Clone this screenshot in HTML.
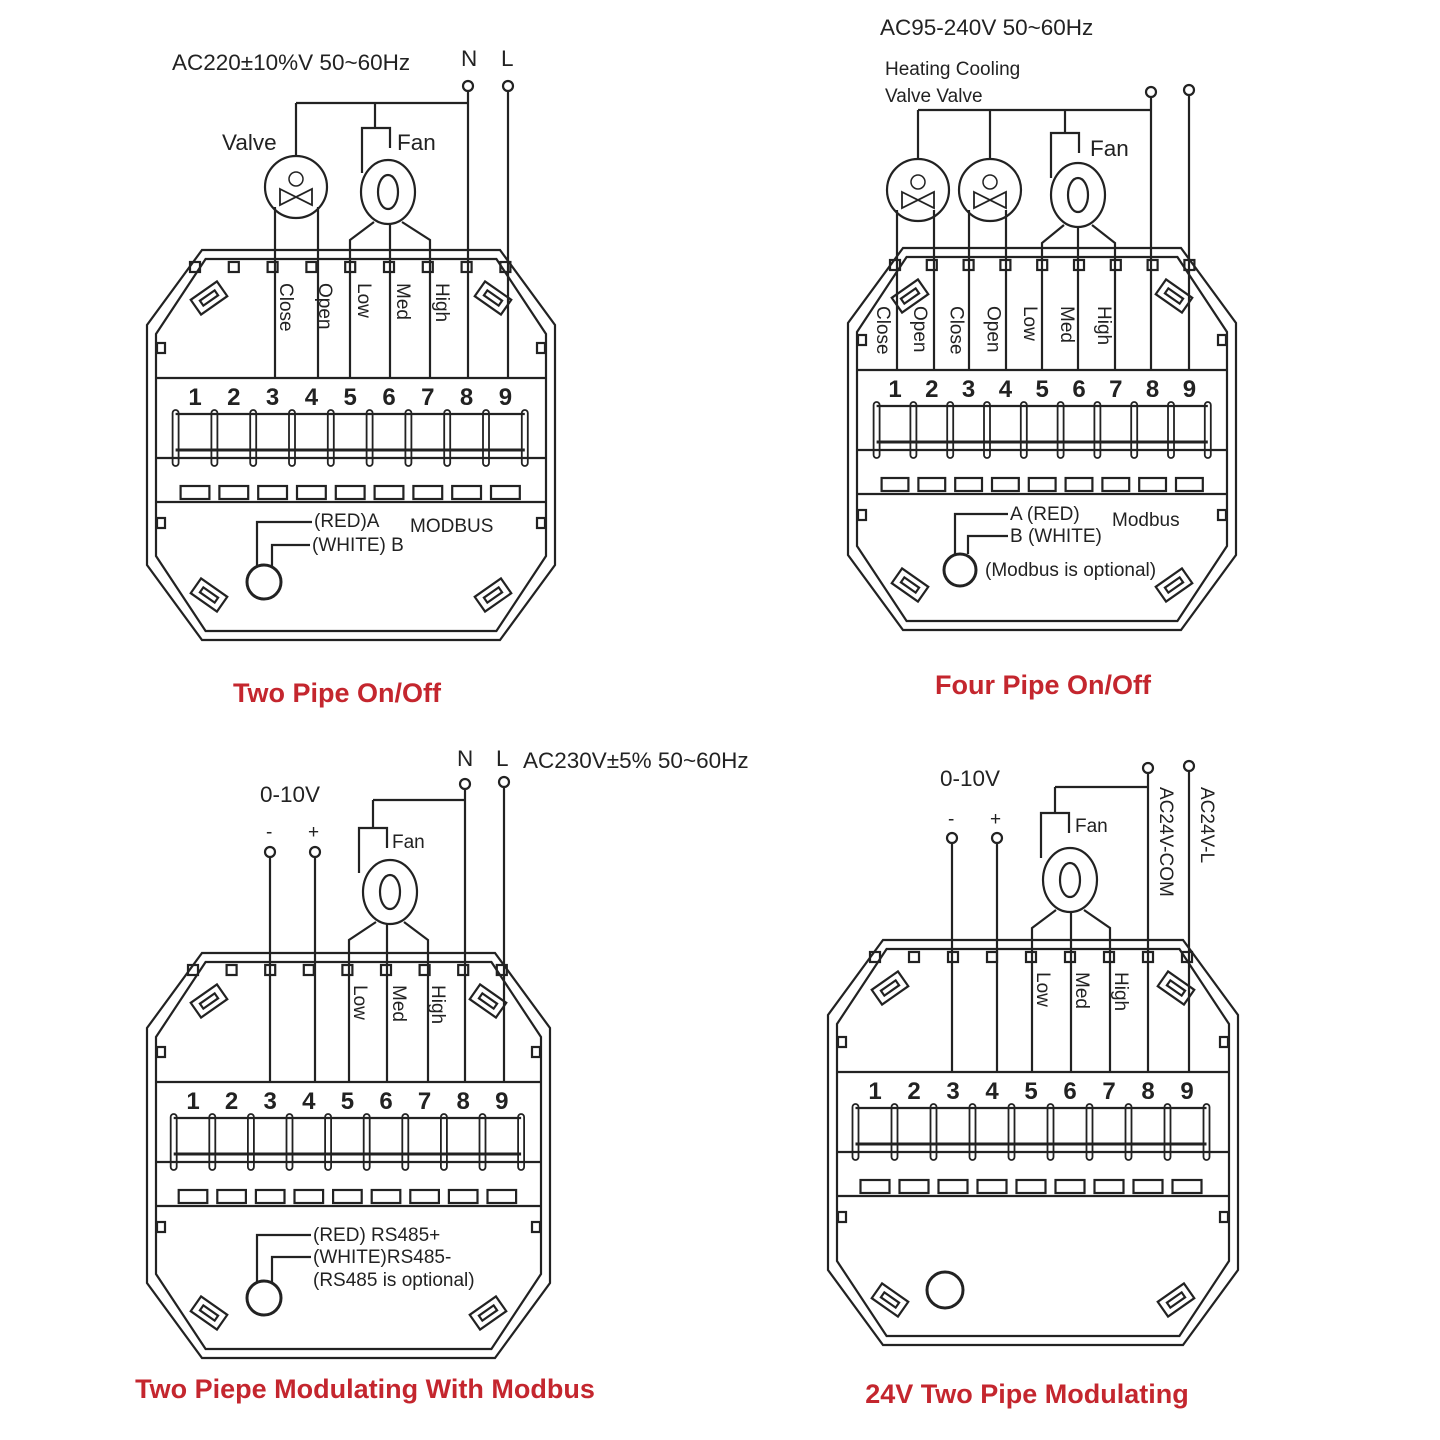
<!DOCTYPE html>
<html><head><meta charset="utf-8"><style>
html,body{margin:0;padding:0;background:#fff}
svg{display:block}
text{font-family:"Liberation Sans",sans-serif;fill:#222}
.t{font-size:22.5px}
.s{font-size:19px}
.n{font-size:24px;font-weight:bold}
.r{font-size:27px;font-weight:bold;fill:#c4262e}
</style></head><body>
<svg id="s" width="1440" height="1440" viewBox="0 0 1440 1440" xmlns="http://www.w3.org/2000/svg" fill="none" stroke="#222" stroke-width="2.2"></svg>
<script>
const S=document.getElementById('s');let H='';
function L(x1,y1,x2,y2,w){H+=`<line x1="${x1}" y1="${y1}" x2="${x2}" y2="${y2}"${w?` stroke-width="${w}"`:''}/>`}
function T(x,y,t,c,a){H+=`<text x="${x}" y="${y}" class="${c||'t'}" stroke="none"${a?` text-anchor="${a}"`:''}>${t}</text>`}
function RT(x,y,t,c){H+=`<text x="${x}" y="${y}" class="${c||'t'}" stroke="none" transform="rotate(90 ${x} ${y})">${t}</text>`}
function C(x,y,r,w){H+=`<circle cx="${x}" cy="${y}" r="${r}"${w?` stroke-width="${w}"`:''}/>`}
function oct(x0,y0,w,h,o){const c=55-o*0.6,v=75;x0+=o;y0+=o;w-=2*o;h-=2*o;
H+=`<polygon points="${x0+c},${y0} ${x0+w-c},${y0} ${x0+w},${y0+v} ${x0+w},${y0+h-v} ${x0+w-c},${y0+h} ${x0+c},${y0+h} ${x0},${y0+h-v} ${x0},${y0+v}"/>`}
function housing(x0,y0,w,h,tx0,p,yS){
 oct(x0,y0,w,h,0);oct(x0,y0,w,h,9);
 L(x0+9,yS,x0+w-9,yS);L(x0+9,yS+80,x0+w-9,yS+80);L(x0+9,yS+124,x0+w-9,yS+124);
 for(let i=0;i<9;i++){const x=tx0+i*p;T(x,yS+27,i+1,'n','middle');
  H+=`<rect x="${x-p/2+5}" y="${yS+108}" width="${p-10}" height="13"/>`;
  H+=`<rect x="${x-5}" y="${y0+12}" width="10" height="10"/>`;}
 for(let i=0;i<=9;i++){const x=tx0-p/2+i*p;H+=`<rect x="${x-3}" y="${yS+32}" width="6" height="56" rx="3" stroke-width="1.8"/>`}
 L(tx0-p/2,yS+36,tx0+8.5*p,yS+36);L(tx0-p/2,yS+72,tx0+8.5*p,yS+72,3);
 [[x0+62,y0+48,-35],[x0+w-62,y0+48,35],[x0+62,y0+h-45,35],[x0+w-62,y0+h-45,-35]].forEach(a=>{
  H+=`<g transform="rotate(${a[2]} ${a[0]} ${a[1]})"><rect x="${a[0]-16}" y="${a[1]-9}" width="32" height="18"/><rect x="${a[0]-9}" y="${a[1]-3}" width="18" height="6"/></g>`});
 [yS-35,yS+140].forEach(y=>{H+=`<rect x="${x0+10}" y="${y}" width="8" height="10"/><rect x="${x0+w-18}" y="${y}" width="8" height="10"/>`});
}
function fan(x,y,cx,cy,legs,yB){
 H+=`<path d="M${x-14},${y+45} V${y} H${x+14} V${y+20}"/>`;
 H+=`<ellipse cx="${cx}" cy="${cy}" rx="27" ry="32"/><ellipse cx="${cx}" cy="${cy}" rx="10" ry="17"/>`;
 const by=cy+30;
 H+=`<path d="M${legs[0]},${yB} V${by+18} L${cx-14},${by}"/>`;
 L(legs[1],by+2,legs[1],yB);
 H+=`<path d="M${legs[2]},${yB} V${by+18} L${cx+14},${by}"/>`;
}
function valve(cx,cy,l1,l2,yB){C(cx,cy,31);C(cx,cy-8,7,1.5);
 H+=`<path d="M${cx-16},${cy+2} L${cx+16},${cy+18} V${cy+2} L${cx-16},${cy+18}Z" stroke-width="1.8"/>`;
 L(l1,cy+20,l1,yB);L(l2,cy+20,l2,yB);}
// TL
housing(147,250,408,390,195,38.8,378);
T(172,70,'AC220±10%V 50~60Hz');T(461,66,'N','t');T(501,66,'L','t');
C(468,86,5);C(508,86,5);L(468,91,468,378);L(508,91,508,378);
L(296,103,468,103);L(296,103,296,155);L(375,103,375,128);
valve(296,187,275,318,378);fan(376,128,388,192,[350,390,430],378);
T(222,150,'Valve');T(397,150,'Fan');
['Close','Open','Low','Med','High'].forEach((t,i)=>RT(280+i*39,283,t,'s'));
C(264,582,17,3);H+=`<path d="M257,566 V522 H312 M272,566 V545 H310"/>`;
T(314,527,'(RED)A','s');T(312,551,'(WHITE) B','s');T(410,532,'MODBUS','s');
T(337,702,'Two Pipe On/Off','r','middle');
// TR
housing(848,248,388,382,895,36.8,370);
T(880,35,'AC95-240V  50~60Hz');T(885,75,'Heating  Cooling','s');T(885,102,'Valve     Valve','s');
C(1151,92,5);C(1189,90,5);L(1151,97,1151,370);L(1189,95,1189,370);
L(918,110,1151,110);L(918,110,918,159);L(990,110,990,159);L(1065,110,1065,133);
valve(918,190,897,934,370);valve(990,190,969,1006,370);fan(1065,133,1078,195,[1042,1078,1115],370);
T(1090,156,'Fan');
['Close','Open','Close','Open','Low','Med','High'].forEach((t,i)=>RT(877+i*36.8,306,t,'s'));
C(960,570,16,3);H+=`<path d="M955,554 V514 H1008 M968,554 V536 H1008"/>`;
T(1010,520,'A (RED)','s');T(1010,542,'B (WHITE)','s');T(1112,526,'Modbus','s');T(985,576,'(Modbus is optional)','s');
T(1043,694,'Four Pipe On/Off','r','middle');
// BL
housing(147,953,403,405,193,38.6,1082);
T(260,802,'0-10V');T(266,838,'-','s');T(308,838,'+','s');
C(270,852,5);C(315,852,5);L(270,857,270,1082);L(315,857,315,1082);
T(457,766,'N');T(496,766,'L');T(523,768,'AC230V±5% 50~60Hz');
C(465,784,5);C(504,782,5);L(465,789,465,1082);L(504,787,504,1082);
L(373,800,465,800);L(373,800,373,828);fan(373,828,390,892,[349,387,428],1082);
T(392,848,'Fan','s');
['Low','Med','High'].forEach((t,i)=>RT(354+i*39,985,t,'s'));
C(264,1298,17,3);H+=`<path d="M257,1282 V1235 H311 M272,1282 V1257 H311"/>`;
T(313,1241,'(RED) RS485+','s');T(313,1263,'(WHITE)RS485-','s');T(313,1286,'(RS485 is optional)','s');
T(365,1398,'Two Piepe Modulating With Modbus','r','middle');
// BR
housing(828,940,410,405,875,39,1072);
T(940,786,'0-10V');T(948,825,'-','s');T(990,825,'+','s');
C(952,838,5);C(997,838,5);L(952,843,952,1072);L(997,843,997,1072);
C(1148,768,5);C(1189,766,5);L(1148,773,1148,1072);L(1189,771,1189,1072);
L(1055,787,1148,787);L(1055,787,1055,813);fan(1055,813,1070,880,[1032,1071,1110],1072);
T(1075,832,'Fan','s');RT(1160,787,'AC24V-COM','s');RT(1201,787,'AC24V-L','s');
['Low','Med','High'].forEach((t,i)=>RT(1037+i*39,972,t,'s'));
C(945,1290,18,3);
T(1027,1403,'24V Two Pipe Modulating','r','middle');
S.innerHTML=H;
</script>
</body></html>
